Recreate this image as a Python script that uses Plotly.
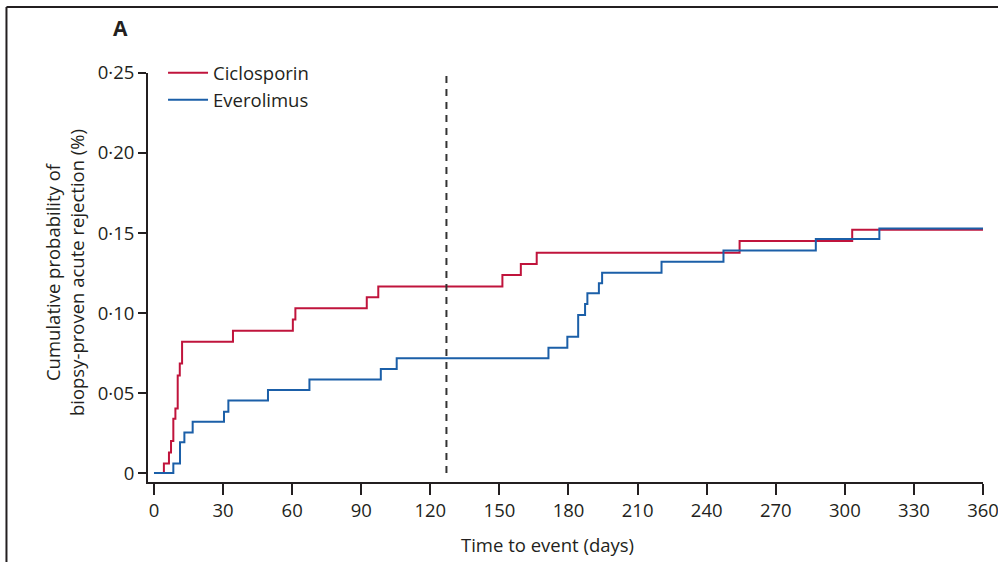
import plotly.graph_objects as go

# Kaplan-Meier style cumulative incidence of biopsy-proven acute rejection
cic_days = [0, 4.3, 6.5, 7.4, 8.4, 9.3, 10.3, 11.2, 12.2, 34.3, 60.3, 61.4,
            92.4, 97.4, 151.3, 159.3, 166.2, 254.3, 303.2, 360]
cic_prob = [0, 0.006, 0.0129, 0.020, 0.034, 0.0404, 0.061, 0.0685, 0.082, 0.089,
            0.096, 0.103, 0.1098, 0.1165, 0.1237, 0.1306, 0.1377, 0.1450, 0.152, 0.152]

eve_days = [0, 8.4, 11.3, 13.2, 16.8, 30.4, 32.3, 49.5, 67.5, 98.5, 105.4, 171.3,
            179.5, 184.2, 187.2, 188.2, 193.2, 194.6, 220.4, 247.3, 287.4, 315.0, 360]
eve_prob = [0, 0.006, 0.0192, 0.0254, 0.032, 0.0383, 0.0454, 0.0519, 0.0585, 0.065,
            0.0717, 0.0783, 0.0852, 0.0988, 0.1056, 0.1123, 0.1186, 0.1252, 0.132,
            0.139, 0.1462, 0.1529, 0.1529]

x_ticks = [0, 30, 60, 90, 120, 150, 180, 210, 240, 270, 300, 330, 360]
y_ticks = [0, 0.05, 0.10, 0.15, 0.20, 0.25]
y_tick_labels = ["0", "0·05", "0·10", "0·15", "0·20", "0·25"]

landmark_day = 127

RED = "#c0143c"
BLUE = "#1b5fa8"
INK = "#231f20"
FONT = "Open Sans"
FS = 18.5

fig = go.Figure()
fig.add_trace(go.Scatter(x=cic_days, y=cic_prob, mode="lines", name="Ciclosporin",
                         line=dict(color=RED, width=2, shape="hv")))
fig.add_trace(go.Scatter(x=eve_days, y=eve_prob, mode="lines", name="Everolimus",
                         line=dict(color=BLUE, width=2, shape="hv")))

# landmark at the time of conversion
fig.add_shape(type="line", xref="x", yref="y", x0=landmark_day, x1=landmark_day,
              y0=0, y1=0.253, line=dict(color="#333333", width=2, dash="7px,6px"))

# panel frame (open on the right and bottom)
fig.add_shape(type="line", xref="paper", yref="paper", x0=-0.1695, x1=1.05,
              y0=1.1614, y1=1.1614, line=dict(color=INK, width=2))
fig.add_shape(type="line", xref="paper", yref="paper", x0=-0.1695, x1=-0.1695,
              y0=1.1614, y1=-0.25, line=dict(color=INK, width=2))

fig.add_annotation(text="<b>A</b>", xref="paper", yref="paper", x=-0.0335, y=1.110,
                   showarrow=False, font=dict(family=FONT, size=21, color=INK),
                   xanchor="center", yanchor="middle")

fig.add_annotation(text="Cumulative probability of<br>biopsy-proven acute rejection (%)",
                   xref="paper", yref="paper", x=-0.1005, y=0.511, textangle=-90,
                   showarrow=False, font=dict(family=FONT, size=FS, color=INK),
                   xanchor="center", yanchor="middle")

fig.add_annotation(text="Time to event (days)", xref="paper", yref="paper",
                   x=0.478, y=-0.154, showarrow=False,
                   font=dict(family=FONT, size=FS, color=INK),
                   xanchor="center", yanchor="middle")

fig.update_layout(
    width=998, height=562,
    margin=dict(l=148, r=15, t=73, b=80),
    paper_bgcolor="white", plot_bgcolor="white",
    font=dict(family=FONT, size=FS, color=INK),
    showlegend=True,
    legend=dict(x=0.018, y=1.046, xanchor="left", yanchor="top",
                bgcolor="rgba(0,0,0,0)", font=dict(size=FS), itemwidth=40,
                traceorder="normal"),
    xaxis=dict(range=[-2.6, 360], tickvals=x_ticks, showgrid=False, zeroline=False,
               showline=True, linecolor=INK, linewidth=2, ticks="outside",
               ticklen=11, tickwidth=2, tickcolor=INK, tickfont=dict(size=FS),
               automargin=False, ticklabeloverflow="allow"),
    yaxis=dict(range=[-0.0056, 0.25], tickvals=y_ticks, ticktext=y_tick_labels,
               showgrid=False, zeroline=False, showline=True, linecolor=INK,
               linewidth=2, ticks="outside", ticklen=8, tickwidth=2, tickcolor=INK,
               tickfont=dict(size=FS), automargin=False, ticklabeloverflow="allow"),
)

fig.write_html("out.html")
